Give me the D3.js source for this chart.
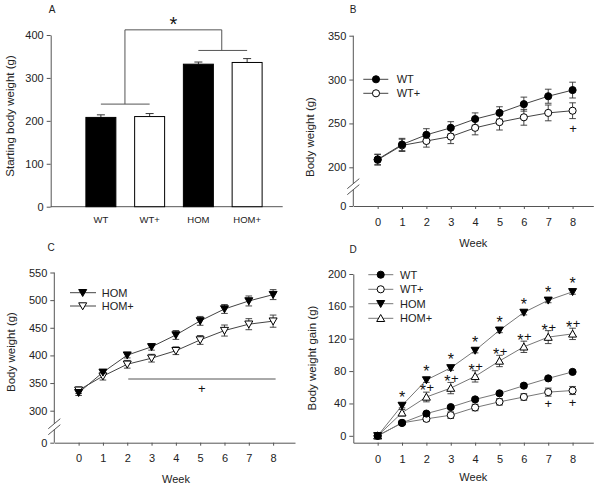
<!DOCTYPE html>
<html><head><meta charset="utf-8">
<script src="https://cdn.jsdelivr.net/npm/d3@7"></script>
<style>
body{margin:0;background:#fff;}
svg{display:block;font-family:"Liberation Sans",Arial,sans-serif;}
</style></head><body>
<svg id="c" width="602" height="489"></svg>
<script>
// ---------- Panel A data ----------
const groupsA = ["WT", "WT+", "HOM", "HOM+"];
const startWeight = [208, 210, 332, 336];
const startWeightErr = [6, 7, 5, 9];
const ticksA = [0, 100, 200, 300, 400];

// ---------- shared ----------
const weeks = [0, 1, 2, 3, 4, 5, 6, 7, 8];

// ---------- Panel B data ----------
const wtBW = [209, 226, 237, 245, 255, 262, 272, 281, 288];
const wtBWErr = [6, 7, 7, 7, 7, 7, 8, 8, 9];
const wtpBW = [208.5, 225, 230, 235, 245, 251.5, 257, 262, 264.5];
const wtpBWErr = [6, 7, 7, 8, 8, 9, 9, 9, 9];
const ticksB = [0, 200, 250, 300, 350];

// ---------- Panel C data ----------
const homBW = [332.5, 369.5, 400.5, 415.5, 437, 462.5, 484, 498.5, 510];
const homBWErr = [5, 4, 5, 6, 8, 8, 8, 9, 9];
const hompBW = [337, 362.5, 384, 395, 408.5, 428, 445, 456.5, 462];
const hompBWErr = [6, 7, 7, 7, 7, 8, 10, 10, 11];
const ticksC = [0, 300, 350, 400, 450, 500, 550];

// ---------- Panel D data ----------
const wtGain = [0, 16, 27.5, 35.5, 45, 52.5, 62, 71, 79];
const wtGainErr = [1, 2, 2, 2, 2, 2, 2, 2, 2];
const wtpGain = [0, 16, 21, 25.5, 35, 42, 48, 54, 56];
const wtpGainErr = [1, 2, 3, 4, 4, 4, 4, 5, 5];
const homGain = [0, 37.5, 69, 84, 105.5, 130.5, 152.5, 167.5, 178];
const homGainErr = [1, 3, 3, 3, 3, 3, 3, 3, 3];
const hompGain = [0, 28.5, 48, 59, 73.5, 92.5, 110, 122, 126];
const hompGainErr = [1, 4, 6, 7, 7, 7, 7, 8, 7];
const ticksD = [0, 40, 80, 120, 160, 200];

// ---------- significance marks ----------
const starWeeksD = [1, 2, 3, 4, 5, 6, 7, 8];
const starPlusWeeksD = [2, 3, 4, 5, 6, 7, 8];
const plusWeeksD = [7, 8];
const plusWeeksB = [8];
const plusSpanC = [2, 8];
const plusWeekC = 5;

const svg = d3.select("#c");
const AX = "#555", TXT = "#222";

function styleAxis(sel, fs) {
  sel.selectAll("path.domain").attr("stroke", AX).attr("stroke-width", 1);
  sel.selectAll(".tick line").attr("stroke", AX).attr("stroke-width", 1);
  sel.selectAll(".tick text").attr("fill", TXT).style("font-size", (fs || 11) + "px")
     .style("font-family", '"Liberation Sans",Arial,sans-serif');
}
function label(g, txt, x, y, fs, rot, anchor) {
  const t = g.append("text").text(txt).attr("fill", TXT).style("font-size", fs + "px")
    .attr("text-anchor", anchor || "middle").attr("dy", "0.35em");
  if (rot) t.attr("transform", `translate(${x},${y}) rotate(-90)`);
  else t.attr("x", x).attr("y", y);
  return t;
}
function symPath(type) {
  if (type === "circle") return d3.symbol(d3.symbolCircle, 40)();
  if (type === "tdown") return "M-4,-3.2L4,-3.2L0,3.8Z";
  return "M0,-3.8L4,3.2L-4,3.2Z";
}
function drawSeries(g, x, y, s, lineColor) {
  const pts = weeks.map((w, i) => ({ w, v: s.vals[i], e: s.errs[i] }));
  g.append("path").datum(pts).attr("fill", "none").attr("stroke", lineColor).attr("stroke-width", 1)
    .attr("d", d3.line().x(d => x(d.w)).y(d => y(d.v)));
  const eb = g.append("g").attr("stroke", "#333").attr("stroke-width", 0.9);
  pts.forEach(d => {
    const cx = x(d.w), y1 = y(d.v - d.e), y2 = y(d.v + d.e);
    eb.append("line").attr("x1", cx).attr("x2", cx).attr("y1", y1).attr("y2", y2);
    eb.append("line").attr("x1", cx - 3.3).attr("x2", cx + 3.3).attr("y1", y1).attr("y2", y1);
    eb.append("line").attr("x1", cx - 3.3).attr("x2", cx + 3.3).attr("y1", y2).attr("y2", y2);
  });
}
function drawMarkers(g, x, y, s) {
  g.selectAll(null).data(weeks).enter().append("path")
    .attr("d", symPath(s.sym))
    .attr("transform", (w, i) => `translate(${x(w)},${y(s.vals[i])})`)
    .attr("fill", s.filled ? "#000" : "#fff").attr("stroke", "#000").attr("stroke-width", 1);
}
function legend(g, items, x0, x1, xm, xt, ys, lineColor) {
  items.forEach((s, i) => {
    g.append("line").attr("x1", x0).attr("x2", x1).attr("y1", ys[i]).attr("y2", ys[i])
      .attr("stroke", lineColor).attr("stroke-width", 1);
    g.append("path").attr("d", symPath(s.sym)).attr("transform", `translate(${xm},${ys[i]})`)
      .attr("fill", s.filled ? "#000" : "#fff").attr("stroke", "#000");
    label(g, s.name, xt, ys[i], 11, false, "start");
  });
}
function brokenY(g, ax, yTop, yBreak, yBottom) {
  g.append("line").attr("x1", ax).attr("x2", ax).attr("y1", yTop).attr("y2", yBreak - 3).attr("stroke", AX);
  g.append("line").attr("x1", ax).attr("x2", ax).attr("y1", yBreak + 3).attr("y2", yBottom).attr("stroke", AX);
  [-3, 3].forEach(o => {
    g.append("line").attr("x1", ax - 6).attr("x2", ax + 6)
      .attr("y1", yBreak + o + 5).attr("y2", yBreak + o - 5).attr("stroke", AX);
  });
}
function star(g, x, cy, fs) {
  g.append("text").text("*").attr("x", x).attr("y", cy + 0.585 * fs).attr("text-anchor", "middle")
    .attr("fill", "#111").style("font-size", fs + "px");
}
function plus(g, x, cy, fs) {
  g.append("text").text("+").attr("x", x).attr("y", cy + 0.353 * fs).attr("text-anchor", "middle")
    .attr("fill", "#111").style("font-size", fs + "px");
}

// ================= Panel A =================
{
  const g = svg.append("g");
  const y = d3.scaleLinear().domain([0, 400]).range([206.7, 35]);
  const x = d3.scaleBand().domain(groupsA).range([76.5, 271.5]).paddingInner(0.385).paddingOuter(0.1925);
  g.append("g").attr("transform", "translate(50.7,0)")
    .call(d3.axisLeft(y).tickValues(ticksA).tickSize(4).tickPadding(3).tickSizeOuter(0))
    .call(s => styleAxis(s, 11));
  g.append("line").attr("x1", 50.7).attr("x2", 282.7).attr("y1", y(0)).attr("y2", y(0)).attr("stroke", AX);
  groupsA.forEach((c, i) => {
    const cx = x(c) + x.bandwidth() / 2;
    g.append("line").attr("x1", cx).attr("x2", cx).attr("y1", y(startWeight[i])).attr("y2", y(startWeight[i] + startWeightErr[i])).attr("stroke", "#333");
    g.append("line").attr("x1", cx - 4).attr("x2", cx + 4).attr("y1", y(startWeight[i] + startWeightErr[i])).attr("y2", y(startWeight[i] + startWeightErr[i])).attr("stroke", "#333");
  });
  g.selectAll("rect.bar").data(groupsA).enter().append("rect")
    .attr("x", d => x(d)).attr("width", x.bandwidth())
    .attr("y", (d, i) => y(startWeight[i])).attr("height", (d, i) => y(0) - y(startWeight[i]))
    .attr("fill", d => d.endsWith("+") ? "#fff" : "#000").attr("stroke", "#000").attr("stroke-width", 1);
  groupsA.forEach(c => label(g, c, x(c) + x.bandwidth() / 2, 220, 9.5));
  // brackets
  const cen = c => x(c) + x.bandwidth() / 2;
  const lowY = y(239), upY = y(364), topY = y(412);
  const lowMid = (cen("WT") + cen("WT+")) / 2 - 0.3, upMid = (cen("HOM") + cen("HOM+")) / 2 - 1;
  const br = g.append("g").attr("stroke", "#555").attr("stroke-width", 1);
  br.append("line").attr("x1", cen("WT")).attr("x2", cen("WT+")).attr("y1", lowY).attr("y2", lowY);
  br.append("line").attr("x1", cen("HOM")).attr("x2", cen("HOM+")).attr("y1", upY).attr("y2", upY);
  br.append("line").attr("x1", lowMid).attr("x2", lowMid).attr("y1", lowY).attr("y2", topY);
  br.append("line").attr("x1", upMid).attr("x2", upMid).attr("y1", upY).attr("y2", topY);
  br.append("line").attr("x1", lowMid).attr("x2", upMid).attr("y1", topY).attr("y2", topY);
  star(g, (lowMid + upMid) / 2, 19, 20);
  label(g, "Starting body weight (g)", 10, 116, 11.5, true);
  label(g, "A", 52, 9, 10);
}

// ================= Panel B =================
{
  const g = svg.append("g");
  const x = d3.scaleLinear().domain([-1, 8.85]).range([353.3, 593.3]);
  const y = d3.scaleLinear().domain([0, 200, 350]).range([206, 167.3, 35.7]);
  g.append("g").attr("transform", "translate(353.3,0)")
    .call(d3.axisLeft(y).tickValues(ticksB).tickSize(4).tickPadding(3))
    .call(s => { s.select(".domain").remove(); styleAxis(s, 11); });
  brokenY(g, 353.3, y(350), (y(0) + y(200)) / 2, y(0));
  g.append("g").attr("transform", `translate(0,${y(0)})`)
    .call(d3.axisBottom(x).tickValues(weeks).tickSize(3).tickPadding(9).tickSizeOuter(0))
    .call(s => styleAxis(s, 11));
  const S = [
    { name: "WT", vals: wtBW, errs: wtBWErr, sym: "circle", filled: true },
    { name: "WT+", vals: wtpBW, errs: wtpBWErr, sym: "circle", filled: false }
  ];
  S.forEach(s => drawSeries(g, x, y, s, "#444"));
  S.slice().reverse().forEach(s => drawMarkers(g, x, y, s));
  plusWeeksB.forEach(w => plus(g, x(w) + 0.5, y(wtpBW[w]) + 17.6, 13));
  legend(g, S, 363.3, 388.3, 376, 396.7, [79.3, 93.3], "#444");
  label(g, "Body weight (g)", 310, 137, 11.5, true);
  label(g, "Week", 473.3, 243.5, 11);
  label(g, "B", 353, 9, 10);
}

// ================= Panel C =================
{
  const g = svg.append("g");
  const x = d3.scaleLinear().domain([-1, 8.9]).range([54.3, 295]);
  const y = d3.scaleLinear().domain([0, 300, 550]).range([442.7, 410.7, 272.5]);
  g.append("g").attr("transform", "translate(54.3,0)")
    .call(d3.axisLeft(y).tickValues(ticksC).tickSize(4).tickPadding(3))
    .call(s => { s.select(".domain").remove(); styleAxis(s, 11); });
  brokenY(g, 54.3, y(550), (y(0) + y(300)) / 2, y(0));
  g.append("g").attr("transform", `translate(0,${y(0)})`)
    .call(d3.axisBottom(x).tickValues(weeks).tickSize(3).tickPadding(9).tickSizeOuter(0))
    .call(s => styleAxis(s, 11));
  const S = [
    { name: "HOM", vals: homBW, errs: homBWErr, sym: "tdown", filled: true },
    { name: "HOM+", vals: hompBW, errs: hompBWErr, sym: "tdown", filled: false }
  ];
  S.forEach(s => drawSeries(g, x, y, s, "#444"));
  S.slice().reverse().forEach(s => drawMarkers(g, x, y, s));
  const ly = 379;
  g.append("line").attr("x1", x(plusSpanC[0]) + 1).attr("x2", x(plusSpanC[1]) + 2.5)
    .attr("y1", ly).attr("y2", ly).attr("stroke", "#555");
  plus(g, x(plusWeekC) + 1.5, ly + 9.3, 13);
  legend(g, S, 70, 96, 82.7, 101.7, [292.7, 306], "#444");
  label(g, "Body weight (g)", 10.7, 352, 11.5, true);
  label(g, "Week", 176, 479.3, 11);
  label(g, "C", 51, 247.5, 10);
}

// ================= Panel D =================
{
  const g = svg.append("g");
  const x = d3.scaleLinear().domain([-1, 8.85]).range([353.3, 593.3]);
  const y = d3.scaleLinear().domain([-8.5, 200]).range([442.7, 274]);
  g.append("g").attr("transform", "translate(353.3,0)")
    .call(d3.axisLeft(y).tickValues(ticksD).tickSize(4).tickPadding(3).tickSizeOuter(0))
    .call(s => styleAxis(s, 11));
  g.append("g").attr("transform", "translate(0,442.7)")
    .call(d3.axisBottom(x).tickValues(weeks).tickSize(3).tickPadding(10).tickSizeOuter(0))
    .call(s => styleAxis(s, 11));
  const S = [
    { name: "WT", vals: wtGain, errs: wtGainErr, sym: "circle", filled: true },
    { name: "WT+", vals: wtpGain, errs: wtpGainErr, sym: "circle", filled: false },
    { name: "HOM", vals: homGain, errs: homGainErr, sym: "tdown", filled: true },
    { name: "HOM+", vals: hompGain, errs: hompGainErr, sym: "tup", filled: false }
  ];
  S.forEach(s => drawSeries(g, x, y, s, "#777"));
  S.slice().reverse().forEach(s => drawMarkers(g, x, y, s));
  starWeeksD.forEach(w => star(g, x(w), y(homGain[w]) - 12, 16));
  starPlusWeeksD.forEach(w => {
    const cy = y(hompGain[w]) - 10;
    star(g, x(w) - 3.5, cy, 16);
    plus(g, x(w) + 4, cy, 13);
  });
  plusWeeksD.forEach(w => plus(g, x(w), y(wtpGain[w]) + 11.7, 13));
  legend(g, S, 368.3, 393.3, 380.7, 400, [274.7, 289.3, 303.7, 318.3], "#777");
  label(g, "Body weight gain (g)", 311.7, 358, 11.5, true);
  label(g, "Week", 473.3, 477.3, 11);
  label(g, "D", 353, 249.5, 10);
}
</script>
</body></html>
